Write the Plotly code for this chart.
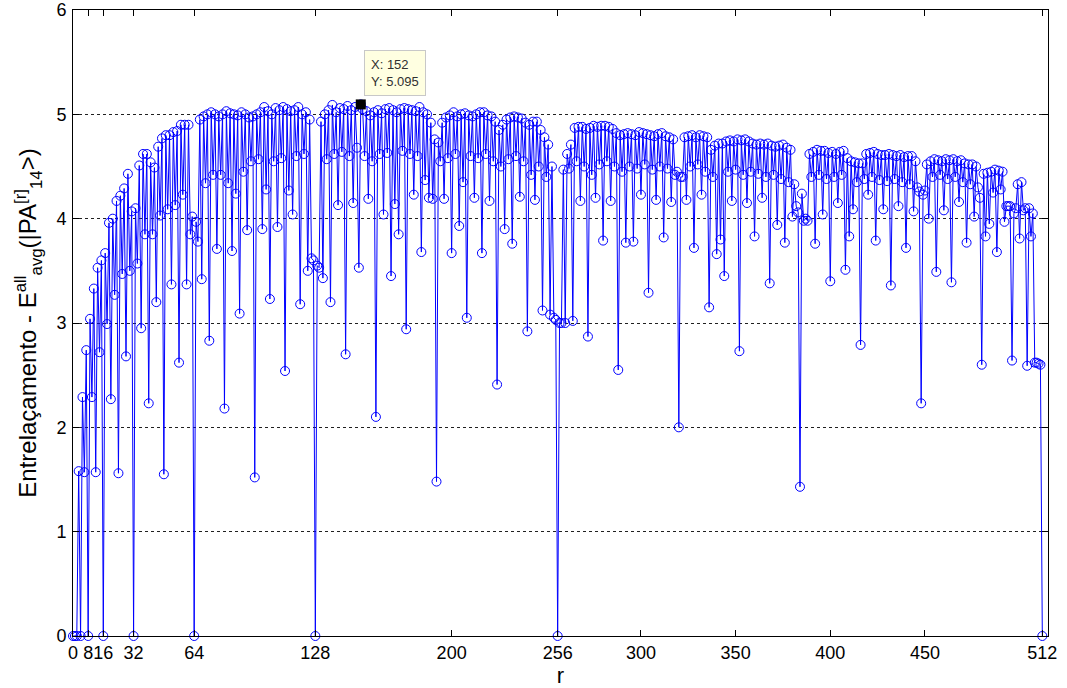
import plotly.graph_objects as go

# Entanglement values for r = 0 .. 512
r_values = list(range(0, 513))
entanglement = [
    0, 0, 0, 1.58, 0, 2.29, 1.57, 2.74,
    0, 3.04, 2.29, 3.33, 1.57, 3.53, 2.72, 3.60,
    0, 3.67, 2.99, 3.96, 2.27, 4.00, 3.27, 4.17,
    1.56, 4.22, 3.47, 4.29, 2.68, 4.43, 3.50, 4.07,
    0, 4.10, 3.57, 4.51, 2.95, 4.62, 3.85, 4.62,
    2.23, 4.54, 3.85, 4.49, 3.20, 4.69, 4.03, 4.77,
    1.55, 4.80, 4.09, 4.80, 3.37, 4.83, 4.13, 4.84,
    2.62, 4.90, 4.23, 4.90, 3.37, 4.90, 3.85, 4.02,
    0, 3.97, 3.78, 4.95, 3.42, 4.98, 4.34, 5.00,
    2.83, 5.02, 4.42, 5.00, 3.71, 4.98, 4.42, 5.00,
    2.18, 5.03, 4.34, 5.01, 3.69, 5.00, 4.24, 4.99,
    3.09, 5.02, 4.45, 5.00, 3.89, 4.97, 4.55, 4.98,
    1.52, 5.00, 4.57, 5.02, 3.90, 5.07, 4.28, 5.03,
    3.23, 5.00, 4.55, 5.06, 3.92, 5.04, 4.58, 5.07,
    2.54, 5.05, 4.27, 5.03, 4.04, 5.04, 4.60, 5.07,
    3.18, 5.00, 4.62, 5.02, 3.50, 4.95, 3.62, 3.60,
    0, 3.55, 3.53, 4.93, 3.43, 5.00, 4.57, 5.04,
    3.20, 5.09, 4.62, 5.02, 4.13, 5.06, 4.64, 5.05,
    2.70, 5.08, 4.60, 5.04, 4.15, 5.07, 4.68, 3.53,
    5.095, 5.05, 4.60, 5.03, 4.19, 4.99, 4.55, 5.02,
    2.10, 5.04, 4.62, 5.01, 4.04, 5.05, 4.63, 5.06,
    3.45, 5.04, 4.14, 5.02, 3.85, 5.05, 4.65, 5.06,
    2.94, 5.05, 4.62, 5.04, 4.23, 5.03, 4.60, 5.07,
    3.68, 5.02, 4.37, 5.00, 4.20, 4.92, 4.19, 4.76,
    1.48, 4.73, 4.55, 4.92, 4.19, 4.97, 4.58, 4.99,
    3.67, 5.02, 4.62, 4.98, 3.93, 5.00, 4.35, 5.01,
    3.05, 4.99, 4.60, 4.98, 4.20, 5.00, 4.58, 5.02,
    3.67, 5.02, 4.62, 4.99, 4.17, 4.98, 4.55, 4.93,
    2.41, 4.85, 4.50, 4.90, 3.90, 4.95, 4.57, 4.97,
    3.76, 4.98, 4.60, 4.97, 4.21, 4.96, 4.55, 4.92,
    2.92, 4.90, 4.42, 4.93, 4.18, 4.93, 4.50, 4.85,
    3.12, 4.78, 4.40, 4.71, 3.08, 4.50, 3.05, 3.03,
    0, 3.00, 3.00, 4.47, 3.00, 4.62, 4.48, 4.71,
    3.02, 4.87, 4.55, 4.88, 4.17, 4.88, 4.50, 4.86,
    2.87, 4.87, 4.42, 4.89, 4.20, 4.88, 4.52, 4.89,
    3.79, 4.89, 4.55, 4.88, 4.17, 4.86, 4.50, 4.82,
    2.55, 4.80, 4.45, 4.81, 3.77, 4.82, 4.50, 4.81,
    3.78, 4.80, 4.48, 4.83, 4.23, 4.82, 4.52, 4.81,
    3.29, 4.80, 4.47, 4.79, 4.18, 4.81, 4.50, 4.82,
    3.82, 4.79, 4.48, 4.78, 4.16, 4.76, 4.42, 4.45,
    2.00, 4.40, 4.40, 4.78, 4.18, 4.79, 4.50, 4.80,
    3.72, 4.78, 4.52, 4.80, 4.23, 4.79, 4.45, 4.78,
    3.15, 4.66, 4.40, 4.70, 3.66, 4.72, 3.80, 4.72,
    3.45, 4.74, 4.45, 4.75, 4.17, 4.74, 4.47, 4.76,
    2.73, 4.75, 4.42, 4.76, 4.15, 4.74, 4.45, 4.72,
    3.83, 4.71, 4.43, 4.72, 4.20, 4.71, 4.40, 4.72,
    3.38, 4.70, 4.42, 4.69, 3.94, 4.70, 4.38, 4.71,
    3.77, 4.68, 4.35, 4.66, 4.02, 4.33, 4.12, 4.06,
    1.43, 4.24, 3.98, 4.00, 3.98, 4.62, 4.40, 4.64,
    3.76, 4.66, 4.42, 4.65, 4.04, 4.65, 4.38, 4.63,
    3.40, 4.64, 4.40, 4.62, 4.15, 4.64, 4.42, 4.65,
    3.51, 4.58, 3.83, 4.55, 4.09, 4.54, 4.35, 4.53,
    2.79, 4.53, 4.38, 4.62, 4.23, 4.63, 4.40, 4.64,
    3.79, 4.62, 4.37, 4.61, 4.09, 4.61, 4.36, 4.62,
    3.36, 4.61, 4.38, 4.60, 4.12, 4.61, 4.35, 4.59,
    3.72, 4.60, 4.33, 4.60, 4.07, 4.55, 4.30, 4.26,
    2.23, 4.23, 4.27, 4.52, 4.00, 4.55, 4.40, 4.57,
    3.49, 4.56, 4.42, 4.55, 4.08, 4.57, 4.38, 4.56,
    3.39, 4.57, 4.40, 4.55, 4.16, 4.56, 4.35, 4.53,
    3.77, 4.52, 4.33, 4.52, 4.02, 4.50, 4.30, 4.20,
    2.60, 4.43, 3.83, 4.44, 3.95, 4.45, 4.25, 4.47,
    3.68, 4.46, 4.28, 4.45, 3.97, 4.12, 4.12, 4.12,
    2.64, 4.05, 4.10, 4.33, 3.81, 4.35, 4.08, 4.10,
    2.59, 4.10, 3.83, 4.05, 2.62, 2.62, 2.61, 2.60,
    0,
]

x_tick_values = [0, 8, 16, 32, 64, 128, 200, 256, 300, 350, 400, 450, 512]
y_tick_values = [0, 1, 2, 3, 4, 5, 6]

datatip_x = 152
datatip_y = 5.095

font_family = "Arial, Liberation Sans, sans-serif"

fig = go.Figure()
fig.add_trace(go.Scatter(
    x=r_values, y=entanglement, mode="lines+markers",
    line=dict(color="#0000FF", width=1),
    marker=dict(symbol="circle-open", size=9, color="#0000FF", line=dict(width=1)),
    showlegend=False, hoverinfo="skip", cliponaxis=False,
))
fig.add_trace(go.Scatter(
    x=[datatip_x], y=[datatip_y], mode="markers",
    marker=dict(symbol="square", size=10, color="black"),
    showlegend=False, hoverinfo="skip",
))

fig.add_annotation(
    x=datatip_x, y=datatip_y, xref="x", yref="y",
    text="X: 152<br>Y: 5.095", showarrow=False,
    xanchor="left", yanchor="bottom", align="left",
    xshift=3, yshift=8,
    bgcolor="#FFFFE1", bordercolor="#C8C8C8", borderwidth=1, borderpad=6,
    font=dict(family=font_family, size=13, color="#303030"),
)

fig.update_layout(
    width=1067, height=688,
    paper_bgcolor="white", plot_bgcolor="white",
    margin=dict(l=73, r=19, t=10, b=52, autoexpand=False),
    font=dict(family=font_family, size=18, color="black"),
    hovermode=False,
)
fig.update_xaxes(
    range=[0, 515], tickmode="array", tickvals=x_tick_values,
    ticktext=[str(v) for v in x_tick_values], tickangle=0,
    ticks="inside", ticklen=6, tickcolor="black", showgrid=False, zeroline=False,
    showline=True, linecolor="black", linewidth=1, mirror="allticks",
    title=dict(text="r", font=dict(size=22), standoff=0),
    tickfont=dict(size=18), automargin=False,
)
fig.update_yaxes(
    range=[0, 6], tickmode="array", tickvals=y_tick_values,
    ticks="inside", ticklen=6, tickcolor="black", ticklabelstandoff=2,
    showgrid=True, gridcolor="#202020", gridwidth=1, griddash="3px,3px",
    zeroline=False, showline=True, linecolor="black", linewidth=1, mirror="allticks",
    title=dict(text="Entrelaçamento - E<sup>all</sup><sub>avg</sub>(|PA<sup>[r]</sup><sub>14</sub>>)",
               font=dict(size=24), standoff=12),
    tickfont=dict(size=18), automargin=False,
)

# remove the default page margin so the figure fills the window exactly
fig.write_html(
    "out.html",
    config={"displayModeBar": False, "staticPlot": True},
    post_script="document.body.style.margin='0';document.body.style.overflow='hidden';",
)
